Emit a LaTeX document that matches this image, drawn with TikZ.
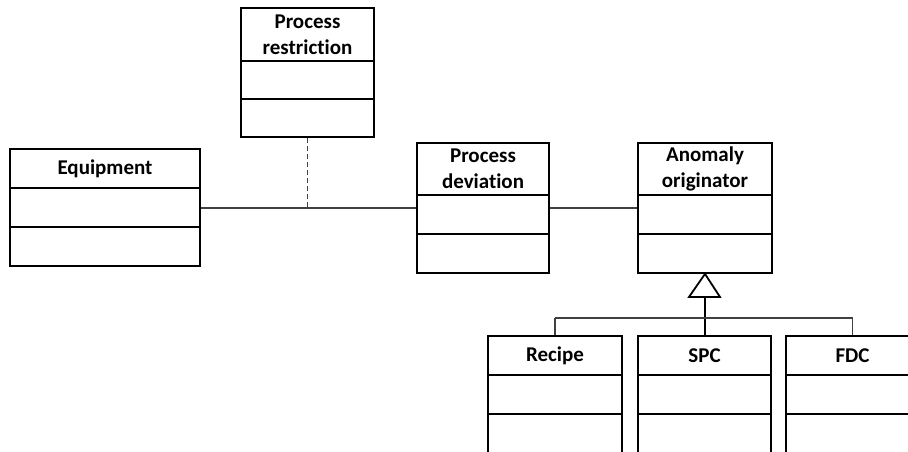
\documentclass[tikz,border=0pt]{standalone}
\usepackage{fontspec}
\setmainfont[Ligatures=NoCommon]{Carlito}
\usetikzlibrary{fit}

\tikzset{
  frame/.style={draw=black, line width=1.8pt, inner sep=0pt},
  sepline/.style={draw=black, line width=1.8pt},
  classtitle/.style={font=\fontsize{21}{25.6}\selectfont\bfseries, align=center, inner sep=0pt},
  assoc/.style={draw=black!75, line width=1.2pt},
  depend/.style={assoc, dashed, dash pattern=on 5pt off 3pt},
  genline/.style={draw=black, line width=1.8pt},
  genhead/.style={draw=black, line width=1.8pt, fill=white, line join=miter}
}

% #1 name, #2 left, #3 top, #4 right, #5 first divider, #6 second divider, #7 bottom, #8 title
\newcommand\classbox[8]{%
  \coordinate (#1-nw) at (#2,-#3);
  \coordinate (#1-se) at (#4,-#7);
  \node[frame, fit=(#1-nw)(#1-se)] (#1) {};
  \node[classtitle] (#1-title) at ({(#2+#4)/2},{-(#3+#5)/2}) {#8};
  \draw[sepline] (#2,-#5) -- (#4,-#5);
  \draw[sepline] (#2,-#6) -- (#4,-#6);
}

\begin{document}
\begin{tikzpicture}[x=1pt, y=1pt]
\useasboundingbox (0,0) rectangle (908,-451);
\clip (0,0) rectangle (908,-451);

% classes
\classbox{restr}{241}{8}{374}{61}{99}{137}{Process\\restriction}
\classbox{equip}{10}{149}{200}{188}{227}{266}{Equipment}
\classbox{dev}{417}{143}{549}{195}{234}{273}{Process\\deviation}
\classbox{orig}{638}{143}{772}{195}{234}{273}{Anomaly\\originator}
\classbox{recipe}{488}{336}{622}{375}{414}{470}{Recipe}
\classbox{spc}{638}{336}{771}{375}{414}{470}{SPC}
\classbox{fdc}{786}{336}{919}{375}{414}{470}{FDC}

% associations
\draw[assoc] (equip.east |- 0,-208) -- (dev.west |- 0,-208);
\draw[assoc] (dev.east |- 0,-208) -- (orig.west |- 0,-208);
\coordinate (link) at (restr.south |- 0,-208);
\draw[depend] (restr.south) -- (link);

% generalization
\coordinate (apex) at (orig.south -| 705,0);
\coordinate (base) at (705,-297);
\coordinate (bar) at (705,-318);
\draw[genline] (base) -- (spc.north -| base);
\draw[assoc] (recipe.north |- bar) -- (fdc.north |- bar);
\draw[assoc] (recipe.north |- bar) -- (recipe.north);
\draw[assoc] (fdc.north |- bar) -- (fdc.north);
\draw[genhead] (apex) -- (689,-297) -- (720,-297) -- cycle;
\end{tikzpicture}
\end{document}
